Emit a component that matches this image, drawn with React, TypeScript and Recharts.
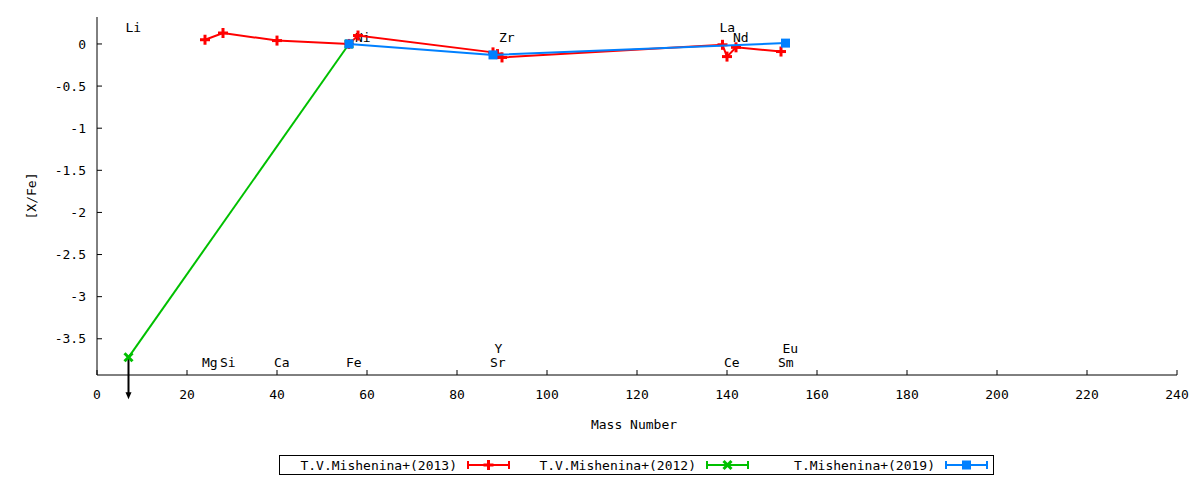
import React from 'react';
import { ComposedChart, Scatter, XAxis, YAxis, Legend, Label } from 'recharts';

const FONT = '"DejaVu Sans Mono", monospace';
const FS = 13;
const RED = '#ff0000';
const GREEN = '#00c000';
const BLUE = '#0080ff';

const xTicks = [0, 20, 40, 60, 80, 100, 120, 140, 160, 180, 200, 220, 240];
const yTicks = [0, -0.5, -1, -1.5, -2, -2.5, -3, -3.5];

// T.V.Mishenina+(2013)
const mass2013 = [24, 28, 40, 56, 58, 88, 89, 90, 139, 140, 142, 152];
const xfe2013 = [0.05, 0.13, 0.04, 0, 0.1, -0.1, -0.12, -0.16, -0.01, -0.15, -0.04, -0.09];
// T.V.Mishenina+(2012)
const mass2012 = [7, 56];
const xfe2012 = [-3.72, 0];
const upper2012 = [true, false];
// T.Mishenina+(2019)
const mass2019 = [56, 88, 153];
const xfe2019 = [0, -0.13, 0.01];

// element labels
const elementNames = ['Li', 'Mg', 'Si', 'Ca', 'Fe', 'Ni', 'Sr', 'Y', 'Zr', 'La', 'Ce', 'Nd', 'Sm', 'Eu'];
const elementMass = [7, 24, 28, 40, 56, 58, 88, 89, 90, 139, 140, 142, 152, 153];
const elementLabelY = [0.2, -3.78, -3.78, -3.78, -3.78, 0.077, -3.78, -3.62, 0.077, 0.2, -3.78, 0.077, -3.78, -3.62];

const seriesNames = ['T.V.Mishenina+(2013)', 'T.V.Mishenina+(2012)', 'T.Mishenina+(2019)'];
const seriesColors = [RED, GREEN, BLUE];
const seriesMarkers = ['plus', 'cross', 'square'];

const toPoints = (m: number[], v: number[], lim?: boolean[]) =>
  m.map((x, i) => ({ x, y: v[i], upper: lim ? lim[i] : false }));

const data2013 = toPoints(mass2013, xfe2013);
const data2012 = toPoints(mass2012, xfe2012, upper2012);
const data2019 = toPoints(mass2019, xfe2019);
const labelData = elementNames.map((name, i) => ({ x: elementMass[i], y: elementLabelY[i], name }));

const Marker = ({ type, cx, cy, color }: { type: string; cx: number; cy: number; color: string }) => {
  if (type === 'plus') {
    return (
      <g>
        <line x1={cx - 5} x2={cx + 5} y1={cy} y2={cy} stroke={color} strokeWidth={3} />
        <line x1={cx} x2={cx} y1={cy - 5} y2={cy + 5} stroke={color} strokeWidth={3} />
      </g>
    );
  }
  if (type === 'cross') {
    return (
      <g>
        <line x1={cx - 4} x2={cx + 4} y1={cy - 4} y2={cy + 4} stroke={color} strokeWidth={3} />
        <line x1={cx - 4} x2={cx + 4} y1={cy + 4} y2={cy - 4} stroke={color} strokeWidth={3} />
      </g>
    );
  }
  return <rect x={cx - 4.5} y={cy - 4.5} width={9} height={9} fill={color} />;
};

const makeShape = (type: string, color: string) => (props: any) => {
  const { cx, cy, payload } = props;
  if (cx == null || cy == null) return <g />;
  return (
    <g>
      {payload && payload.upper ? (
        <g>
          <line x1={cx} x2={cx} y1={cy} y2={cy + 36} stroke="#000" strokeWidth={2} />
          <path d={`M${cx - 3},${cy + 35} L${cx + 3},${cy + 35} L${cx},${cy + 42} Z`} fill="#000" />
        </g>
      ) : null}
      <Marker type={type} cx={cx} cy={cy} color={color} />
    </g>
  );
};

const LabelShape = (props: any) => {
  const { cx, cy, payload } = props;
  return (
    <text x={cx - 3} y={cy} dominantBaseline="central" fontFamily={FONT} fontSize={FS} fill="#000">
      {payload.name}
    </text>
  );
};

const LegendBox = (props: any) => {
  const payload = (props.payload || []).filter((p: any) => p.type !== 'none');
  const items = seriesNames
    .map((name, k) => ({ k, item: payload.find((p: any) => p.value === name) }))
    .filter((e) => e.item);
  return (
    <svg width={715} height={21} style={{ display: 'block' }}>
      <rect x={0.5} y={0.5} width={714} height={19} fill="#fff" stroke="#000" strokeWidth={1} />
      {items.map(({ k, item }, i) => {
        const color = seriesColors[k];
        const textEnd = 178 + 239 * i;
        const s0 = 188 + 239 * i;
        const s1 = 231 + 239 * i;
        const mid = (s0 + s1) / 2;
        return (
          <g key={i}>
            <text x={textEnd} y={10} textAnchor="end" dominantBaseline="central" fontFamily={FONT} fontSize={FS} fill="#000">
              {item.value}
            </text>
            <line x1={s0} x2={s1} y1={10} y2={10} stroke={color} strokeWidth={2} />
            <line x1={s0 + 1} x2={s0 + 1} y1={6} y2={14} stroke={color} strokeWidth={2} />
            <line x1={s1 - 1} x2={s1 - 1} y1={6} y2={14} stroke={color} strokeWidth={2} />
            <Marker type={seriesMarkers[k]} cx={mid} cy={10} color={color} />
          </g>
        );
      })}
    </svg>
  );
};

const tickStyle = { fontFamily: FONT, fontSize: FS, fill: '#000' };

export default function App() {
  return (
    <div style={{ position: 'absolute', left: 0, top: 0, background: '#fff' }}>
      <ComposedChart width={1200} height={480} margin={{ top: 17, right: 23, bottom: 0, left: 0 }}>
        <XAxis
          xAxisId="b"
          dataKey="x"
          type="number"
          domain={[0, 240]}
          ticks={xTicks}
          interval={0}
          height={105}
          tickSize={-5}
          tickMargin={20}
          tick={tickStyle}
          axisLine={{ stroke: '#000' }}
          tickLine={{ stroke: '#000' }}
        >
          <Label
            content={(p: any) => {
              const vb = p.viewBox || { x: 97, y: 375, width: 1080 };
              return (
                <text x={vb.x + vb.width / 2 - 3} y={vb.y + 49} textAnchor="middle" dominantBaseline="central" fontFamily={FONT} fontSize={FS} fill="#000">
                  Mass Number
                </text>
              );
            }}
          />
        </XAxis>
        <XAxis
          xAxisId="t"
          orientation="top"
          type="number"
          domain={[0, 240]}
          ticks={xTicks}
          interval={0}
          height={0}
          tickSize={-5}
          tick={false}
          axisLine={{ stroke: '#000' }}
          tickLine={{ stroke: '#000' }}
        />
        <YAxis
          yAxisId="l"
          dataKey="y"
          type="number"
          domain={[-3.93, 0.32]}
          ticks={yTicks}
          interval={0}
          width={97}
          tickSize={-5}
          tickMargin={16}
          tick={tickStyle}
          axisLine={{ stroke: '#000' }}
          tickLine={{ stroke: '#000' }}
        >
          <Label
            content={(p: any) => {
              const vb = p.viewBox || { x: 0, y: 17, height: 358 };
              const cx = vb.x + 31;
              const cy = vb.y + vb.height / 2;
              return (
                <text x={cx} y={cy} transform={`rotate(-90 ${cx} ${cy})`} textAnchor="middle" dominantBaseline="central" fontFamily={FONT} fontSize={FS} fill="#000">
                  [X/Fe]
                </text>
              );
            }}
          />
        </YAxis>
        <YAxis
          yAxisId="r"
          orientation="right"
          type="number"
          domain={[-3.93, 0.32]}
          ticks={yTicks}
          interval={0}
          width={0}
          tickSize={-5}
          tick={false}
          axisLine={{ stroke: '#000' }}
          tickLine={{ stroke: '#000' }}
        />
        <Legend
          layout="horizontal"
          verticalAlign="middle"
          align="center"
          wrapperStyle={{ left: 279, top: 455, width: 715, height: 21 }}
          content={(p: any) => <LegendBox payload={p.payload} />}
        />
        <Scatter
          name="labels"
          data={labelData}
          xAxisId="b"
          yAxisId="l"
          legendType="none"
          shape={LabelShape}
          isAnimationActive={false}
        />
        <Scatter
          name={seriesNames[1]}
          data={data2012}
          xAxisId="b"
          yAxisId="l"
          fill={GREEN}
          line={{ stroke: GREEN, strokeWidth: 2 }}
          shape={makeShape('cross', GREEN)}
          isAnimationActive={false}
        />
        <Scatter
          name={seriesNames[0]}
          data={data2013}
          xAxisId="b"
          yAxisId="l"
          fill={RED}
          line={{ stroke: RED, strokeWidth: 2 }}
          shape={makeShape('plus', RED)}
          isAnimationActive={false}
        />
        <Scatter
          name={seriesNames[2]}
          data={data2019}
          xAxisId="b"
          yAxisId="l"
          fill={BLUE}
          line={{ stroke: BLUE, strokeWidth: 2 }}
          shape={makeShape('square', BLUE)}
          isAnimationActive={false}
        />
      </ComposedChart>
    </div>
  );
}
